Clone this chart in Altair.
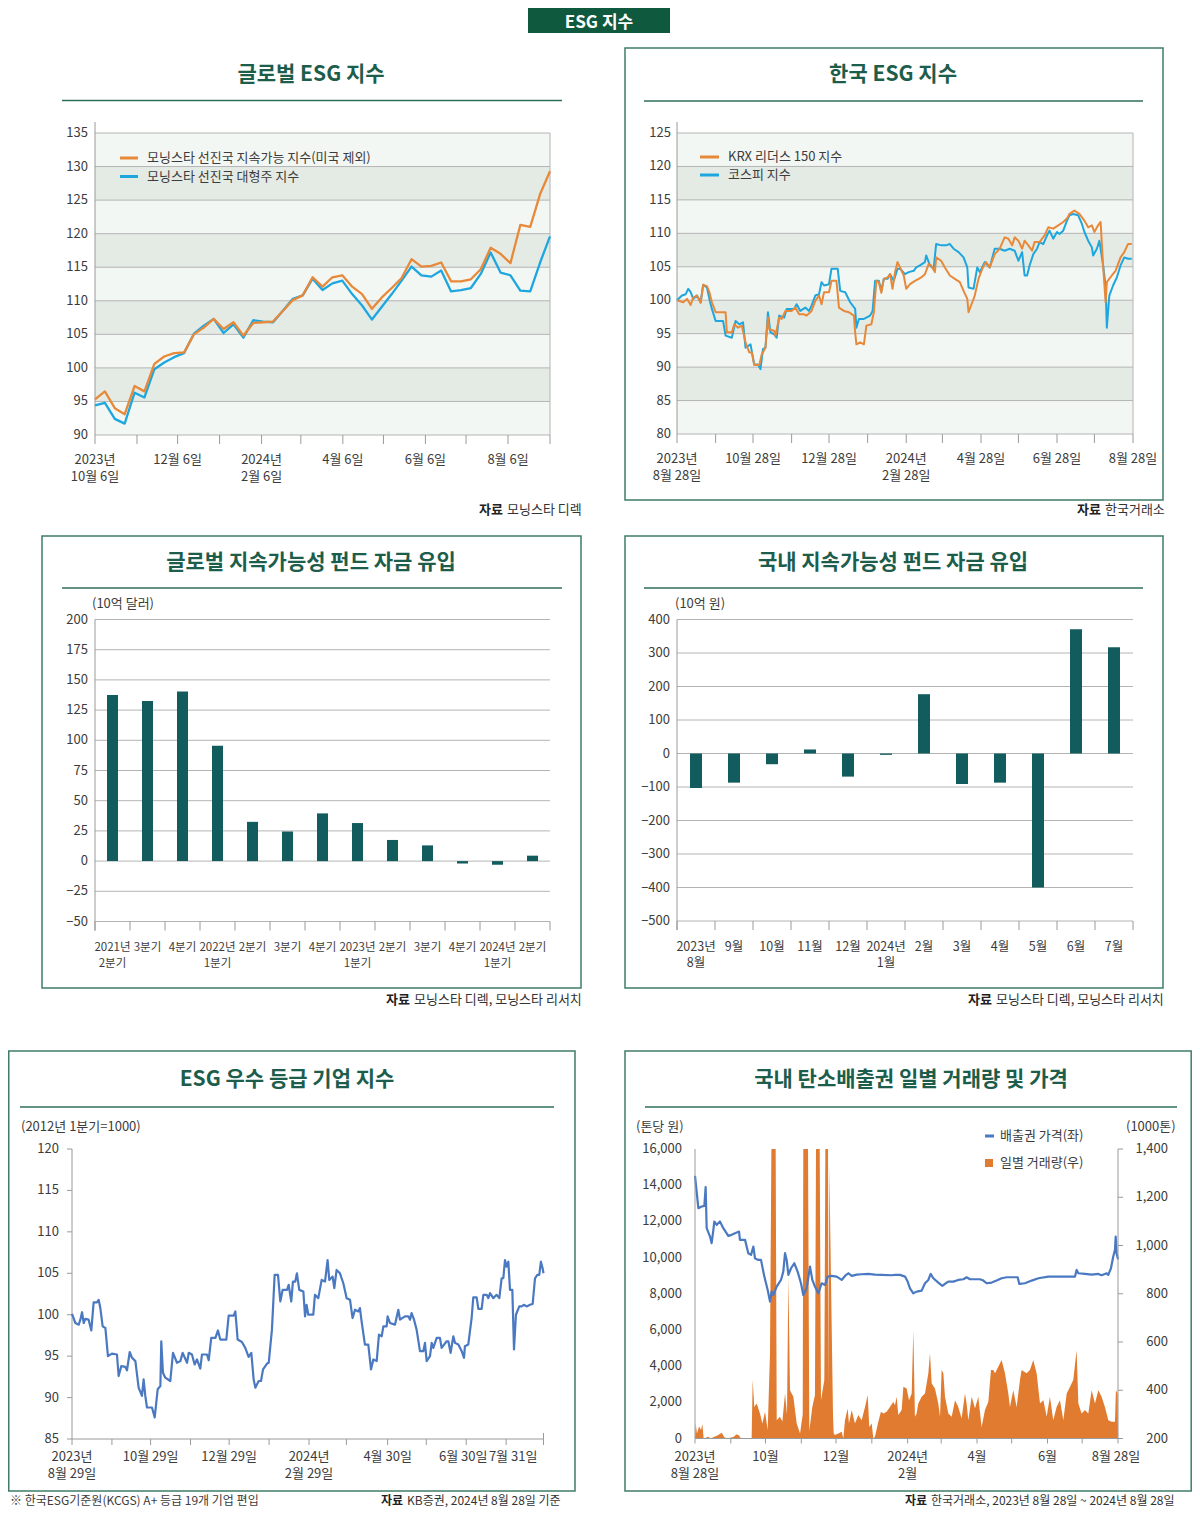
import altair as alt
import pandas as pd

FONT = "Noto Sans CJK KR"
TXT = "#3c3c3c"
GRID = "#b4b4b4"
AXIS = "#9a9a9a"
GREEN_T = "#1d5d4b"
GREEN_L = "#2f6d59"
BORDER = "#3f7d6a"
HEADER = "#0f5a3f"
ORANGE = "#e8893a"
SKY = "#1ea6df"
TEAL = "#135c5d"
BLUE = "#4a79c2"
VOL = "#e07b2f"
BAND_L = "#f3f7f3"
BAND_D = "#e4ebe5"

# ------------------------------------------------------------------ data
GLOBAL_X_START = "2023-10-06"
GLOBAL_X_END = "2024-09-06"
GLOBAL_SUSTAINABLE = [95.3, 96.5, 94.0, 93.1, 97.3, 96.5, 100.6, 101.7, 102.2, 102.3, 105.0, 106.0,
                      107.3, 105.8, 106.8, 104.8, 106.7, 106.8, 106.9, 108.5, 110.1, 110.8, 113.5, 112.1,
                      113.5, 113.8, 112.1, 111.0, 108.8, 110.5, 111.9, 113.4, 116.2, 115.1, 115.2, 115.7,
                      112.9, 112.9, 113.2, 114.7, 117.9, 117.0, 115.6, 121.3, 121.0, 125.9, 129.3]
GLOBAL_LARGECAP = [94.4, 94.8, 92.4, 91.7, 96.3, 95.6, 99.8, 100.8, 101.6, 102.2, 105.1, 106.3,
                   107.3, 105.2, 106.5, 104.5, 107.1, 106.9, 106.8, 108.5, 110.3, 110.8, 113.3, 111.6,
                   112.6, 113.0, 111.0, 109.3, 107.2, 109.1, 111.0, 113.0, 115.1, 113.8, 113.6, 114.5,
                   111.4, 111.6, 111.9, 114.0, 117.2, 114.2, 113.8, 111.5, 111.4, 115.7, 119.6]
GLOBAL_XLABELS = ["2023년\n10월 6일", "12월 6일", "2024년\n2월 6일", "4월 6일", "6월 6일", "8월 6일"]

KOREA_START = "2023-08-28"
KOREA_END = "2024-08-28"
KRX150 = [[0, 100.0], [5, 99.7], [8, 100.2], [11, 99.3], [13, 100.4], [16, 100.7], [19, 99.6], [21, 102.3],
          [24, 102.1], [26, 101.2], [28, 99.7], [31, 98.2], [39, 98.2], [40, 95.2], [44, 95.2], [46, 96.4],
          [49, 95.9], [52, 96.2], [55, 93.7], [58, 92.2], [60, 92.2], [62, 90.3], [66, 90.3], [68, 91.9],
          [71, 92.9], [73, 97.4], [74, 95.7], [78, 95.4], [79, 94.7], [82, 97.4], [84, 97.2], [87, 98.4],
          [92, 98.4], [95, 98.9], [98, 97.9], [102, 97.9], [104, 97.7], [108, 98.4], [111, 99.9], [114, 100.7],
          [116, 99.4], [118, 101.2], [122, 101.2], [124, 102.9], [128, 102.9], [130, 98.9], [134, 98.4],
          [138, 98.2], [142, 97.7], [143, 95.2], [144, 93.4], [147, 93.7], [150, 93.4], [152, 96.2],
          [156, 96.4], [158, 98.2], [160, 102.9], [162, 102.7], [164, 101.1], [166, 103.2], [169, 103.4],
          [171, 103.9], [173, 101.7], [175, 104.2], [177, 105.7], [179, 104.9], [182, 103.7], [184, 101.7],
          [187, 102.4], [191, 102.9], [194, 103.2], [196, 103.4], [199, 103.9], [202, 105.4], [204, 105.2],
          [207, 104.2], [208, 106.4], [212, 105.9], [215, 104.9], [219, 103.7], [223, 103.2], [227, 102.7],
          [230, 101.4], [233, 100.2], [234, 98.2], [237, 99.7], [239, 100.7], [242, 103.2], [245, 104.7],
          [248, 105.7], [251, 104.9], [255, 106.9], [259, 107.7], [263, 109.4], [266, 109.2], [269, 108.2],
          [271, 109.4], [274, 108.9], [277, 107.7], [279, 108.9], [282, 108.2], [285, 107.4], [287, 108.7],
          [291, 108.7], [295, 109.7], [298, 110.9], [302, 110.7], [306, 111.2], [310, 111.7], [313, 112.2],
          [315, 112.9], [319, 113.4], [323, 112.9], [327, 111.9], [330, 110.9], [333, 111.2], [335, 110.2],
          [338, 111.2], [340, 111.7], [342, 105.2], [344, 99.7], [345, 102.7], [349, 103.7], [352, 104.4],
          [356, 106.4], [359, 107.2], [362, 108.4], [365, 108.4]]
KOSPI = [[0, 100.0], [4, 100.7], [7, 100.9], [9, 101.7], [11, 101.2], [13, 100.2], [16, 100.7], [19, 99.7],
         [21, 102.3], [24, 101.9], [26, 100.2], [28, 98.7], [31, 96.9], [37, 96.9], [39, 94.7], [44, 94.4],
         [47, 96.9], [50, 96.4], [53, 96.7], [55, 92.9], [59, 93.4], [62, 90.4], [65, 90.4], [67, 89.7],
         [69, 92.7], [71, 92.9], [73, 98.2], [75, 95.2], [78, 94.9], [80, 94.4], [82, 97.7], [86, 97.4],
         [88, 98.7], [94, 98.7], [96, 99.4], [99, 98.4], [103, 98.9], [106, 98.4], [108, 99.2], [111, 100.7],
         [114, 100.9], [116, 102.7], [118, 102.2], [122, 102.4], [124, 104.7], [129, 104.7], [131, 101.4],
         [135, 101.2], [139, 99.7], [143, 98.7], [144, 95.9], [146, 97.2], [150, 97.2], [152, 97.4],
         [155, 97.7], [157, 98.4], [159, 102.9], [162, 102.9], [164, 101.4], [166, 103.2], [169, 103.2],
         [171, 103.9], [174, 102.9], [177, 104.7], [179, 104.7], [183, 103.9], [186, 104.2], [190, 104.4],
         [192, 104.9], [195, 105.2], [199, 105.7], [200, 106.7], [203, 105.2], [206, 104.7], [208, 108.4],
         [212, 108.2], [216, 108.2], [219, 108.4], [222, 107.7], [226, 107.2], [230, 106.4], [233, 104.9],
         [234, 101.9], [238, 101.7], [241, 104.9], [243, 104.2], [247, 105.7], [251, 104.9], [255, 107.7],
         [259, 107.7], [263, 107.4], [267, 107.7], [271, 107.4], [274, 105.9], [277, 107.2], [279, 103.7],
         [281, 103.7], [283, 105.2], [286, 106.9], [289, 107.7], [291, 108.7], [294, 108.4], [297, 109.7],
         [299, 110.4], [302, 109.2], [305, 110.2], [307, 109.9], [310, 110.4], [313, 111.9], [315, 112.7],
         [318, 112.9], [322, 112.7], [325, 111.4], [327, 110.2], [330, 108.9], [333, 107.9], [334, 106.7],
         [337, 107.7], [339, 108.9], [340, 107.7], [342, 105.2], [344, 102.2], [345, 95.9], [347, 100.7],
         [350, 102.2], [353, 103.4], [356, 105.2], [359, 106.4], [362, 106.2], [365, 106.2]]
KOREA_XLABELS = ["2023년\n8월 28일", "10월 28일", "12월 28일", "2024년\n2월 28일", "4월 28일", "6월 28일", "8월 28일"]

FLOW_G_LABELS = ["2021년\n2분기", "3분기", "4분기", "2022년\n1분기", "2분기", "3분기", "4분기",
                 "2023년\n1분기", "2분기", "3분기", "4분기", "2024년\n1분기", "2분기"]
FLOW_G = [137.5, 132.5, 140.5, 95.5, 32.5, 24.5, 39.5, 31.5, 17.5, 13.0, -2.0, -3.0, 4.5]
FLOW_K_LABELS = ["2023년\n8월", "9월", "10월", "11월", "12월", "2024년\n1월", "2월", "3월", "4월", "5월", "6월", "7월"]
FLOW_K = [-103, -87, -32, 12, -69, -4, 177, -91, -87, -400, 371, 317]

ESG_START = "2023-08-29"
ESG_END = "2024-08-29"
ESG_TOP = [[0.0, 100.1], [2.6, 99.0], [5.2, 98.8], [6.5, 99.4], [7.8, 100.3], [9.1, 99.0], [10.3, 99.5],
           [12.9, 99.4], [15.0, 98.1], [16.8, 101.5], [19.4, 101.5], [20.7, 101.8], [22.0, 100.8], [23.8, 98.6],
           [25.9, 98.4], [27.9, 95.0], [31.0, 95.3], [34.9, 95.2], [36.2, 92.6], [38.3, 93.8], [41.4, 93.7],
           [42.7, 93.3], [44.8, 95.5], [46.6, 94.8], [49.2, 94.4], [51.7, 91.2], [54.3, 90.2], [55.6, 92.2],
           [56.9, 90.2], [58.2, 88.8], [62.1, 88.8], [64.2, 87.6], [66.5, 91.0], [68.6, 91.4], [69.3, 96.8],
           [70.6, 93.0], [72.4, 92.4], [76.3, 92.0], [78.4, 95.4], [81.5, 94.2], [84.1, 94.4], [85.9, 95.4],
           [89.3, 94.2], [90.6, 95.4], [93.1, 95.2], [95.2, 94.0], [97.0, 94.6], [99.6, 93.5], [100.9, 95.2],
           [104.8, 95.2], [106.1, 94.5], [108.1, 97.2], [111.3, 97.2], [113.3, 98.1], [115.1, 97.0],
           [119.8, 97.0], [121.6, 99.9], [125.5, 99.9], [126.8, 100.4], [128.6, 97.0], [131.9, 96.7],
           [134.5, 96.0], [137.1, 94.9], [139.2, 95.4], [141.0, 92.2], [142.3, 91.2], [144.9, 92.0],
           [146.7, 92.0], [148.3, 93.4], [151.4, 94.1], [152.7, 94.2], [155.2, 98.2], [157.3, 104.8],
           [159.9, 104.8], [161.7, 101.6], [163.5, 103.0], [166.9, 103.0], [168.2, 103.6], [170.2, 101.6],
           [171.5, 104.0], [173.3, 104.0], [174.6, 105.0], [176.4, 103.0], [179.6, 102.8], [180.9, 99.8],
           [182.1, 101.2], [183.4, 100.0], [187.3, 100.0], [188.6, 102.4], [191.2, 102.0], [193.8, 104.2],
           [196.4, 104.0], [198.4, 106.6], [199.7, 104.2], [202.3, 104.6], [203.6, 103.2], [205.4, 105.4],
           [208.0, 105.0], [210.6, 103.8], [213.2, 102.0], [215.8, 101.8], [217.8, 99.6], [219.7, 100.6],
           [222.3, 100.4], [223.5, 100.8], [224.8, 99.2], [227.4, 96.4], [230.0, 96.4], [232.1, 93.4],
           [233.9, 94.6], [236.5, 94.4], [238.3, 97.6], [240.4, 97.4], [241.7, 98.6], [244.2, 98.6],
           [245.0, 99.8], [246.8, 99.0], [250.7, 98.8], [253.3, 100.6], [254.6, 99.4], [258.5, 99.8],
           [261.1, 99.8], [262.4, 99.4], [263.6, 100.2], [265.5, 99.4], [267.5, 98.2], [270.1, 95.6],
           [272.7, 95.6], [274.0, 96.6], [275.3, 94.4], [277.9, 95.0], [279.2, 96.6], [280.5, 96.0],
           [283.1, 97.2], [285.6, 97.2], [286.9, 96.0], [290.8, 96.8], [292.1, 96.8], [293.9, 95.4],
           [296.0, 97.4], [297.3, 96.6], [299.9, 96.4], [302.5, 95.6], [304.3, 94.8], [305.0, 96.2],
           [307.6, 96.4], [310.2, 99.6], [311.5, 102.1], [314.1, 102.1], [315.4, 100.7], [318.0, 100.7],
           [319.3, 102.4], [321.9, 102.4], [323.2, 102.0], [324.5, 102.6], [327.0, 102.0], [329.6, 102.4],
           [331.7, 102.0], [333.5, 104.4], [334.8, 104.4], [336.1, 106.6], [337.4, 105.8], [338.7, 106.4],
           [340.0, 103.0], [341.8, 103.0], [343.1, 95.8], [344.6, 100.0], [347.2, 101.0], [349.0, 101.0],
           [350.8, 101.2], [352.9, 101.0], [355.5, 101.2], [357.6, 101.3], [359.4, 104.4], [361.2, 104.8],
           [362.7, 104.8], [364.0, 106.4], [365.3, 105.6], [366.0, 105.0]]
ESG_TICKS = ["2023-08-29", "2023-09-29", "2023-10-29", "2023-11-29", "2023-12-29", "2024-01-29", "2024-02-29",
             "2024-03-29", "2024-04-30", "2024-05-30", "2024-06-30", "2024-07-31", "2024-08-29"]
ESG_XLABELS = ["2023년\n8월 29일", "10월 29일", "12월 29일", "2024년\n2월 29일", "4월 30일", "6월 30일", "7월 31일"]
ESG_XLABEL_DATES = ["2023-08-29", "2023-10-29", "2023-12-29", "2024-02-29", "2024-04-30", "2024-06-30", "2024-07-31"]
ESG_XLABEL_SHIFT = [0, 0, 0, 0, 0, -3, 7]

CARBON_START = "2023-08-28"
CARBON_END = "2024-08-28"
CARBON_PRICE = [[0, 14520], [2.9, 12731], [5.8, 12823], [8.1, 12860], [9.2, 13893], [10.1, 11624], [13.0, 11162],
                [14.4, 10793], [15.9, 11531], [16.7, 11993], [18.8, 11808], [21.6, 11993], [24.5, 11624],
                [28.8, 11199], [31.7, 11255], [34.6, 11347], [38.1, 11439], [38.9, 10978], [43.3, 10978],
                [46.1, 10240], [48.5, 10148], [50.5, 10609], [51.9, 9963], [54.8, 9871], [57.1, 9871],
                [60.0, 8948], [62.9, 8210], [64.9, 7565], [66.3, 8118], [67.8, 7934], [70.7, 8395], [74.4, 8764],
                [76.4, 9225], [77.9, 10240], [79.3, 9871], [80.8, 9041], [83.1, 9410], [85.9, 9686], [88.8, 9225],
                [91.7, 8579], [93.7, 7934], [96.6, 8303], [99.5, 9502], [101.5, 8764], [103.8, 8395], [106.7, 8026],
                [109.6, 8579], [112.5, 8487], [114.8, 8948], [118.2, 8985], [122.6, 8948], [126.9, 8764],
                [129.8, 8985], [132.7, 9133], [135.6, 8985], [139.9, 9059], [144.2, 9078], [150.0, 9096],
                [155.7, 9059], [161.5, 9041], [170.2, 9022], [173.0, 9041], [177.4, 9041], [181.7, 8948],
                [184.0, 8672], [186.0, 8303], [188.9, 8026], [191.8, 8118], [196.1, 8173], [199.0, 8579],
                [201.9, 8764], [203.9, 9096], [206.2, 8856], [210.5, 8616], [214.0, 8432], [216.9, 8579],
                [219.2, 8672], [223.5, 8672], [227.8, 8764], [232.2, 8801], [235.0, 8911], [237.9, 8801],
                [242.3, 8801], [246.6, 8801], [249.5, 8727], [252.3, 8579], [256.7, 8616], [261.0, 8727],
                [265.3, 8856], [269.7, 8911], [275.4, 8911], [279.2, 8911], [280.6, 8542], [285.5, 8579],
                [291.3, 8727], [297.1, 8856], [305.7, 8948], [317.2, 8948], [328.8, 8948], [330.2, 9317],
                [331.7, 9133], [337.4, 9096], [343.2, 9059], [349.0, 9096], [351.8, 9022], [356.2, 9133],
                [357.6, 9041], [359.9, 9410], [361.9, 10055], [363.4, 10424], [364.0, 11162], [364.8, 10240],
                [366.0, 9900]]
CARBON_VOLUME = [[0.0, 200], [0.6, 262], [1.7, 221], [3.5, 250], [5.2, 235], [6.4, 259], [7.5, 200], [11.5, 207],
                 [13.3, 200], [20.2, 214], [23.1, 224], [25.4, 205], [27.4, 200], [33.2, 206], [36.1, 218],
                 [38.1, 212], [39.8, 200], [49.0, 200], [49.9, 442], [51.3, 331], [53.4, 345], [56.2, 304],
                 [58.3, 262], [60.6, 311], [62.9, 235], [64.9, 553], [66.1, 3000], [69.8, 3000], [70.7, 276],
                 [73.5, 290], [75.6, 270], [77.9, 387], [79.6, 300], [80.8, 870], [82.2, 400], [85.1, 373],
                 [88.0, 262], [90.9, 221], [93.2, 300], [93.7, 3000], [97.8, 3000], [98.9, 230], [101.5, 331],
                 [103.8, 380], [104.7, 3000], [107.9, 3000], [109.0, 359], [111.9, 442], [112.8, 3000],
                 [115.1, 3000], [115.6, 400], [116.2, 1334], [119.4, 300], [120.0, 221], [121.1, 215],
                 [124.0, 221], [126.9, 228], [128.3, 200], [129.8, 276], [132.1, 324], [133.2, 262], [135.6, 318],
                 [138.4, 262], [141.3, 297], [144.2, 276], [147.1, 331], [149.4, 380], [150.8, 248], [152.9, 262],
                 [154.3, 200], [155.7, 207], [158.6, 269], [160.9, 311], [163.0, 304], [165.8, 311], [168.7, 331],
                 [171.6, 352], [173.0, 338], [174.5, 373], [175.9, 297], [178.8, 318], [180.3, 414], [183.1, 407],
                 [185.2, 359], [187.5, 387], [188.9, 649], [190.3, 290], [191.8, 304], [193.2, 345], [196.1, 373],
                 [199.0, 387], [201.9, 470], [203.3, 553], [204.8, 428], [207.6, 407], [210.5, 345], [212.0, 290],
                 [213.4, 484], [214.9, 470], [216.3, 373], [219.2, 304], [222.1, 290], [225.0, 359], [227.8, 331],
                 [230.7, 283], [233.6, 387], [235.0, 345], [236.5, 276], [239.4, 373], [242.3, 324], [245.1, 373],
                 [248.0, 248], [250.9, 318], [253.8, 352], [256.1, 484], [258.1, 484], [259.6, 470], [262.4, 497],
                 [265.3, 525], [268.2, 470], [271.1, 387], [272.5, 331], [275.4, 400], [278.3, 331], [281.2, 442],
                 [282.6, 484], [286.9, 470], [289.8, 484], [292.7, 525], [295.6, 470], [298.5, 345], [301.4, 359],
                 [304.3, 290], [307.1, 373], [310.0, 276], [312.9, 331], [315.8, 359], [318.7, 276], [321.6, 387],
                 [324.5, 414], [327.3, 442], [330.2, 566], [331.7, 345], [334.5, 304], [337.4, 318], [340.3, 304],
                 [343.2, 400], [346.1, 345], [349.0, 400], [351.8, 373], [354.7, 331], [357.6, 276], [360.5, 269],
                 [363.4, 269], [364.2, 400], [365.7, 387], [366.0, 200]]
CARBON_XLABELS = ["2023년\n8월 28일", "10월", "12월", "2024년\n2월", "4월", "6월", "8월 28일"]


# ------------------------------------------------------------------ helpers
# the svg starts 8px from the left and from the top of the page
def px(v):
    return v - 8


def py(v):
    return v - 8


def dt(s):
    y, m, d = (int(p) for p in s.split("-"))
    return alt.DateTime(year=y, month=m, date=d)


def tscale(a, b, x0, x1):
    return alt.Scale(type="time", domain=[dt(a), dt(b)], range=[px(x0), px(x1)], nice=False)


def qscale(lo, hi, p_lo, p_hi, clamp=False, horizontal=False):
    f = px if horizontal else py
    kw = dict(type="linear", domain=[lo, hi], range=[f(p_lo), f(p_hi)], nice=False, zero=False, padding=0)
    if clamp:
        kw["clamp"] = True
    return alt.Scale(**kw)


def months(start, n):
    s = pd.Timestamp(start)
    return [s + pd.DateOffset(months=k) for k in range(n)]


def days_to_dates(start, pts):
    return pd.Timestamp(start) + pd.to_timedelta([p[0] for p in pts], unit="D")


def X(field, P):
    return alt.X(f"{field}:{P['xt']}", scale=P["xs"], axis=None)


def Y(field, sc):
    return alt.Y(f"{field}:Q", scale=sc, axis=None)


def rects(P, ys, spans, color):
    df = pd.DataFrame({"xa": [P["x0"]] * len(spans), "xb": [P["x1"]] * len(spans),
                       "ya": [s[0] for s in spans], "yb": [s[1] for s in spans]})
    return alt.Chart(df).mark_rect(color=color).encode(x=X("xa", P), x2="xb", y=Y("ya", ys), y2="yb")


def hrules(P, ys, vals, color, width=1.0):
    df = pd.DataFrame({"v": vals, "xa": [P["x0"]] * len(vals), "xb": [P["x1"]] * len(vals)})
    return alt.Chart(df).mark_rule(color=color, strokeWidth=width).encode(x=X("xa", P), x2="xb", y=Y("v", ys))


def vrule(P, ys, xval, lo, hi, color, width=1.0, top_ext=0, bot_ext=0):
    df = pd.DataFrame({"xa": [xval], "lo": [lo], "hi": [hi]})
    mk = dict(color=color, strokeWidth=width)
    if top_ext:
        mk["y2Offset"] = -top_ext
    if bot_ext:
        mk["yOffset"] = bot_ext
    return alt.Chart(df).mark_rule(**mk).encode(x=X("xa", P), y=Y("lo", ys), y2="hi")


def xticks(P, ys, positions, yval, length, up=0):
    df = pd.DataFrame({"d": positions, "yy": [yval] * len(positions)})
    mk = dict(color=AXIS, strokeWidth=1, y2Offset=length)
    if up:
        mk["yOffset"] = -up
    return alt.Chart(df).mark_rule(**mk).encode(x=X("d", P), y=Y("yy", ys), y2="yy")


def yticks(P, ys, vals, xval, length):
    df = pd.DataFrame({"v": vals, "xa": [xval] * len(vals)})
    return alt.Chart(df).mark_rule(color=AXIS, strokeWidth=1, x2Offset=length).encode(
        x=X("xa", P), x2="xa", y=Y("v", ys))


def ylabels(P, ys, vals, labels, xval, dx, align="right"):
    df = pd.DataFrame({"v": vals, "t": labels, "xa": [xval] * len(vals)})
    return alt.Chart(df).mark_text(align=align, baseline="middle", dx=dx, font=FONT, fontSize=13,
                                   color=TXT).encode(x=X("xa", P), y=Y("v", ys), text="t:N")


def xlabels(P, ys, positions, labels, yval, dy, lh, dx=0, size=13):
    df = pd.DataFrame({"d": positions, "t": labels, "yy": [yval] * len(positions)})
    return alt.Chart(df).mark_text(align="center", baseline="top", dy=dy, dx=dx, lineBreak="\n",
                                   lineHeight=lh, font=FONT, fontSize=size, color=TXT).encode(
        x=X("d", P), y=Y("yy", ys), text="t:N")


def line(P, ys, dates, vals, color, width=2.3):
    df = pd.DataFrame({"d": dates, "v": vals})
    return alt.Chart(df).mark_line(color=color, strokeWidth=width, strokeJoin="round").encode(
        x=X("d", P), y=Y("v", ys))


def stext(text, x, y, size=13, weight="normal", color=TXT, align="left"):
    return alt.Chart(pd.DataFrame({"t": [text]})).mark_text(
        align=align, baseline="middle", font=FONT, fontSize=size, fontWeight=weight, color=color).encode(
        x=alt.value(px(x)), y=alt.value(py(y)), text="t:N")


def srule(x0, x1, y, color, width):
    return alt.Chart(pd.DataFrame({"a": [0]})).mark_rule(color=color, strokeWidth=width).encode(
        x=alt.value(px(x0)), x2=alt.value(px(x1)), y=alt.value(py(y)))


def srect(x0, x1, y0, y1, fill=None, stroke=None, sw=1.5):
    if fill:
        mk = dict(color=fill)
    else:
        mk = dict(filled=False, color=stroke, strokeWidth=sw)
    return alt.Chart(pd.DataFrame({"a": [0]})).mark_rect(**mk).encode(
        x=alt.value(px(x0)), x2=alt.value(px(x1)), y=alt.value(py(y0)), y2=alt.value(py(y1)))


def heading(text, cx, y, ux0, ux1, uy):
    return [stext(text, cx, y, 21, "bold", GREEN_T, "center"), srule(ux0, ux1, uy, GREEN_L, 1.5)]


def source(xb, xr, y, rest, size=13):
    return [stext("자료", xb, y, size, "bold", "#222222", "right"), stext(rest, xr, y, size, "normal", "#333333")]


L = []
# header
L += [srect(528, 670, 8, 33, fill=HEADER), stext("ESG 지수", 599, 22.5, 17, "bold", "#ffffff", "center")]

# ------------------------------------------------------------ panel 1
P1 = dict(xt="T", xs=tscale(GLOBAL_X_START, GLOBAL_X_END, 95, 550),
          x0=pd.Timestamp(GLOBAL_X_START), x1=pd.Timestamp(GLOBAL_X_END))
Y1 = qscale(90, 135, 435, 133)
g_dates = pd.date_range(GLOBAL_X_START, GLOBAL_X_END, periods=len(GLOBAL_SUSTAINABLE))
t1 = months(GLOBAL_X_START, 12)
v1 = list(range(90, 136, 5))
L += [
    rects(P1, Y1, [(90, 135)], BAND_L),
    rects(P1, Y1, [(95, 100), (105, 110), (115, 120), (125, 130)], BAND_D),
    hrules(P1, Y1, v1, GRID),
    vrule(P1, Y1, P1["x1"], 90, 135, GRID),
    vrule(P1, Y1, P1["x0"], 90, 135, AXIS, top_ext=11),
    xticks(P1, Y1, t1, 90, 9),
    line(P1, Y1, g_dates, GLOBAL_LARGECAP, SKY),
    line(P1, Y1, g_dates, GLOBAL_SUSTAINABLE, ORANGE),
    ylabels(P1, Y1, v1, [str(v) for v in v1], P1["x0"], -7),
    xlabels(P1, Y1, t1[0:11:2], GLOBAL_XLABELS, 90, 18.5, 17),
]
L += heading("글로벌 ESG 지수", 311, 75, 62, 562, 100.5)
L += [srule(120, 138, 158, ORANGE, 3), stext("모닝스타 선진국 지속가능 지수(미국 제외)", 147, 158),
      srule(120, 138, 176.5, SKY, 3), stext("모닝스타 선진국 대형주 지수", 147, 176.5)]
L += source(503, 507, 510, "모닝스타 디렉")

# ------------------------------------------------------------ panel 2
P2 = dict(xt="T", xs=tscale(KOREA_START, KOREA_END, 677, 1133),
          x0=pd.Timestamp(KOREA_START), x1=pd.Timestamp(KOREA_END))
Y2 = qscale(80, 125, 434, 133)
t2 = months(KOREA_START, 13)
v2 = list(range(80, 126, 5))
L += [
    srect(625, 1163, 48, 500, stroke=BORDER),
    rects(P2, Y2, [(80, 125)], BAND_L),
    rects(P2, Y2, [(85, 90), (95, 100), (105, 110), (115, 120)], BAND_D),
    hrules(P2, Y2, v2, GRID),
    vrule(P2, Y2, P2["x1"], 80, 125, GRID),
    vrule(P2, Y2, P2["x0"], 80, 125, AXIS, top_ext=11),
    xticks(P2, Y2, t2, 80, 9),
    line(P2, Y2, days_to_dates(KOREA_START, KOSPI), [p[1] for p in KOSPI], SKY, 2.0),
    line(P2, Y2, days_to_dates(KOREA_START, KRX150), [p[1] for p in KRX150], ORANGE, 2.0),
    ylabels(P2, Y2, v2, [str(v) for v in v2], P2["x0"], -6),
    xlabels(P2, Y2, t2[0::2], KOREA_XLABELS, 80, 18.5, 17),
]
L += heading("한국 ESG 지수", 893, 75, 644, 1143, 101)
L += [srule(700, 719, 157, ORANGE, 3), stext("KRX 리더스 150 지수", 728, 157),
      srule(700, 719, 175, SKY, 3), stext("코스피 지수", 728, 175)]
L += source(1101, 1105, 510, "한국거래소")


# ------------------------------------------------------------ bar panels
def bar_panel(vals, labels, lo, hi, step, x0p, x1p, y_lo_p, y_hi_p, barw, unit, unit_x, label_size):
    n = len(vals)
    P = dict(xt="Q", xs=qscale(0, n, x0p, x1p, horizontal=True), x0=0, x1=n)
    ys = qscale(lo, hi, y_lo_p, y_hi_p)
    ticks = list(range(lo, hi + 1, step))
    labs = [str(v).replace("-", "−") for v in ticks]
    bars = pd.DataFrame({"pos": [i + 0.5 for i in range(n)], "v": vals, "base": [0] * n})
    out = [
        hrules(P, ys, ticks, GRID),
        vrule(P, ys, 0, lo, hi, AXIS, bot_ext=9),
        xticks(P, ys, list(range(n + 1)), lo, 9),
        alt.Chart(bars).mark_bar(width=barw, color=TEAL).encode(x=X("pos", P), y=Y("v", ys), y2="base"),
        ylabels(P, ys, ticks, labs, 0, -7),
        xlabels(P, ys, [i + 0.5 for i in range(n)], labels, lo, 20, 16, size=label_size),
        stext(unit, unit_x, 604),
    ]
    return out


L += [srect(42, 581, 536, 988, stroke=BORDER)]
L += bar_panel(FLOW_G, FLOW_G_LABELS, -50, 200, 25, 95, 550, 921.5, 619.5, 11, "(10억 달러)", 92, 11.5)
L += heading("글로벌 지속가능성 펀드 자금 유입", 311, 563, 62, 562, 588)
L += source(410, 414, 1000, "모닝스타 디렉, 모닝스타 리서치")

L += [srect(625, 1163, 536, 988, stroke=BORDER)]
L += bar_panel(FLOW_K, FLOW_K_LABELS, -500, 400, 100, 677, 1133, 921, 619.5, 12, "(10억 원)", 675, 12.5)
L += heading("국내 지속가능성 펀드 자금 유입", 893, 563, 644, 1143, 588)
L += source(992, 996, 1000, "모닝스타 디렉, 모닝스타 리서치")

# ------------------------------------------------------------ panel 5
P5 = dict(xt="T", xs=tscale(ESG_START, ESG_END, 72, 543.5),
          x0=pd.Timestamp(ESG_START), x1=pd.Timestamp(ESG_END))
Y5 = qscale(85, 120, 1439, 1149)
v5 = list(range(85, 121, 5))
t5 = [pd.Timestamp(s) for s in ESG_TICKS]
L += [
    srect(8.75, 575, 1051, 1491, stroke=BORDER),
    vrule(P5, Y5, P5["x0"], 85, 120, AXIS),
    yticks(P5, Y5, v5, P5["x0"], -5),
    hrules(P5, Y5, [85], AXIS),
    xticks(P5, Y5, t5, 85, 6),
    xticks(P5, Y5, [t5[-1]], 85, 6, up=6),
    line(P5, Y5, days_to_dates(ESG_START, ESG_TOP), [p[1] for p in ESG_TOP], BLUE, 2.2),
    ylabels(P5, Y5, v5, [str(v) for v in v5], P5["x0"], -13),
]
for shift in sorted(set(ESG_XLABEL_SHIFT)):
    idx = [i for i, s in enumerate(ESG_XLABEL_SHIFT) if s == shift]
    L.append(xlabels(P5, Y5, [pd.Timestamp(ESG_XLABEL_DATES[i]) for i in idx],
                     [ESG_XLABELS[i] for i in idx], 85, 12, 17, dx=shift))
L += heading("ESG 우수 등급 기업 지수", 287, 1080, 20, 554, 1107)
L += [stext("(2012년 1분기=1000)", 21, 1127)]
L += [stext("※ 한국ESG기준원(KCGS) A+ 등급 19개 기업 편입", 10, 1500.5, 12)]
L += source(403, 407, 1500.5, "KB증권, 2024년 8월 28일 기준", 12)

# ------------------------------------------------------------ panel 6
P6 = dict(xt="T", xs=tscale(CARBON_START, CARBON_END, 695, 1118),
          x0=pd.Timestamp(CARBON_START), x1=pd.Timestamp(CARBON_END))
Y6L = qscale(0, 16000, 1438.5, 1149)
Y6R = qscale(200, 1400, 1438.5, 1149, clamp=True)
t6 = months(CARBON_START, 13)
v6l = list(range(0, 16001, 2000))
v6r = list(range(200, 1401, 200))
vol = pd.DataFrame({"d": days_to_dates(CARBON_START, CARBON_VOLUME), "v": [p[1] for p in CARBON_VOLUME],
                    "base": [200] * len(CARBON_VOLUME)})
L += [
    srect(625, 1191.2, 1051, 1491, stroke=BORDER),
    alt.Chart(vol).mark_area(color=VOL, interpolate="linear").encode(x=X("d", P6), y=Y("v", Y6R), y2="base"),
    line(P6, Y6L, days_to_dates(CARBON_START, CARBON_PRICE), [p[1] for p in CARBON_PRICE], BLUE, 2.2),
    vrule(P6, Y6L, P6["x0"], 0, 16000, AXIS),
    vrule(P6, Y6R, P6["x1"], 200, 1400, AXIS),
    yticks(P6, Y6R, v6r, P6["x1"], 5),
    hrules(P6, Y6L, [0], AXIS),
    xticks(P6, Y6L, t6, 0, 5),
    ylabels(P6, Y6L, v6l, [f"{v:,}" for v in v6l], P6["x0"], -13),
    ylabels(P6, Y6R, v6r, [f"{v:,}" for v in v6r], P6["x1"], 50),
    xlabels(P6, Y6L, t6[0:11:2], CARBON_XLABELS[:-1], 0, 12, 17),
    xlabels(P6, Y6L, [t6[12]], CARBON_XLABELS[-1:], 0, 12, 17, dx=-2),
]
L += heading("국내 탄소배출권 일별 거래량 및 가격", 911, 1080, 645, 1177, 1107)
L += [stext("(톤당 원)", 636, 1127), stext("(1000톤)", 1126, 1127)]
L += [srule(985, 994, 1136, BLUE, 3), stext("배출권 가격(좌)", 1000, 1136),
      srect(985, 993, 1159, 1167, fill=VOL), stext("일별 거래량(우)", 1000, 1163)]
L += source(927, 931, 1500.5, "한국거래소, 2023년 8월 28일 ~ 2024년 8월 28일", 12)

chart = alt.layer(*L).resolve_scale(x="independent", y="independent").properties(
    width=1184, height=1500, padding=0, background="white",
    autosize=alt.AutoSizeParams(type="none"),
).configure_view(strokeWidth=0)

chart.save("out.html", embed_options={"renderer": "svg", "actions": False})
